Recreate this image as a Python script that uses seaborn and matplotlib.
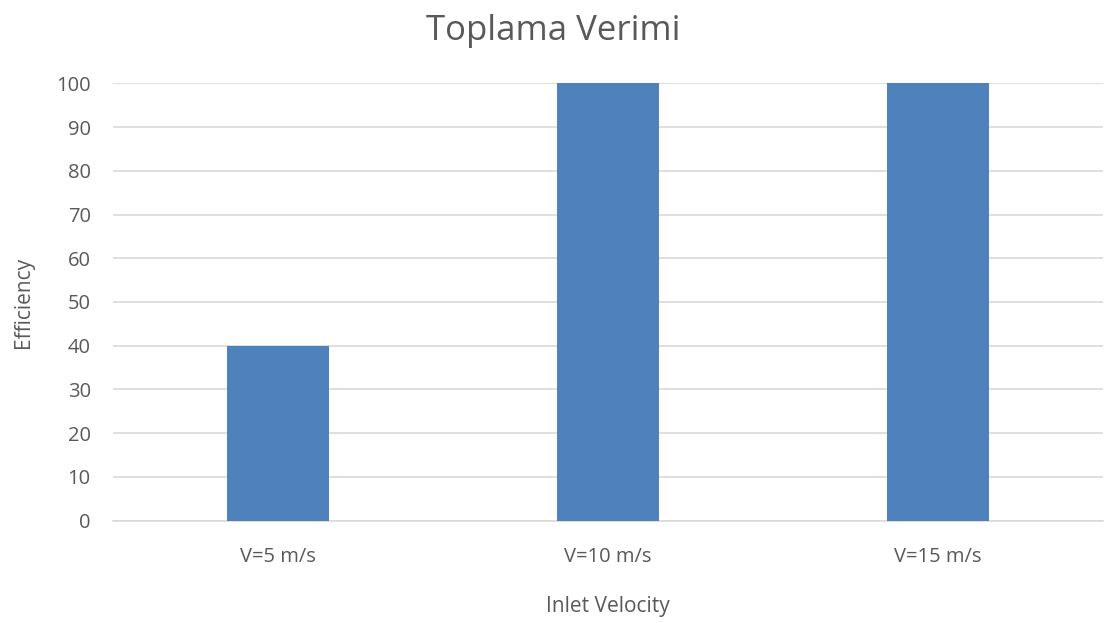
import matplotlib
matplotlib.use("Agg")
import matplotlib.pyplot as plt
import seaborn as sns
import pandas as pd

categories = ["V=5 m/s", "V=10 m/s", "V=15 m/s"]
efficiency = [40, 100, 100]
y_ticks = [0, 10, 20, 30, 40, 50, 60, 70, 80, 90, 100]

df = pd.DataFrame({"Inlet Velocity": categories, "Efficiency": efficiency})

sns.set_theme(style="white")
plt.rcParams["font.family"] = ["Open Sans", "DejaVu Sans"]

text_color = "#595959"
fig = plt.figure(figsize=(11.07, 6.23), dpi=100)
ax = fig.add_axes([0.102, 0.1645, 0.8944, 0.7015])

sns.barplot(data=df, x="Inlet Velocity", y="Efficiency", color="#4F81BD",
            saturation=1, width=0.31, linewidth=0, ax=ax, zorder=3)

ax.set_xlim(-0.5, 2.5)
ax.set_ylim(0, 100)
ax.set_yticks(y_ticks)
ax.yaxis.grid(True, color="#D9D9D9", linewidth=1.2, zorder=0)
ax.set_axisbelow(True)
for side in ["top", "right", "left"]:
    ax.spines[side].set_visible(False)
ax.spines["bottom"].set_color("#D9D9D9")
ax.spines["bottom"].set_linewidth(1.2)
ax.tick_params(axis="both", length=0, labelsize=14.5, colors=text_color)
ax.tick_params(axis="y", pad=16)
ax.tick_params(axis="x", pad=19)
ax.set_xlabel("Inlet Velocity", fontsize=15, color=text_color, labelpad=21)
ax.set_ylabel("Efficiency", fontsize=15, color=text_color, labelpad=16)
fig.suptitle("Toplama Verimi", fontsize=25, color=text_color, y=0.977)

fig.savefig("out.png", dpi=100, facecolor="white")
